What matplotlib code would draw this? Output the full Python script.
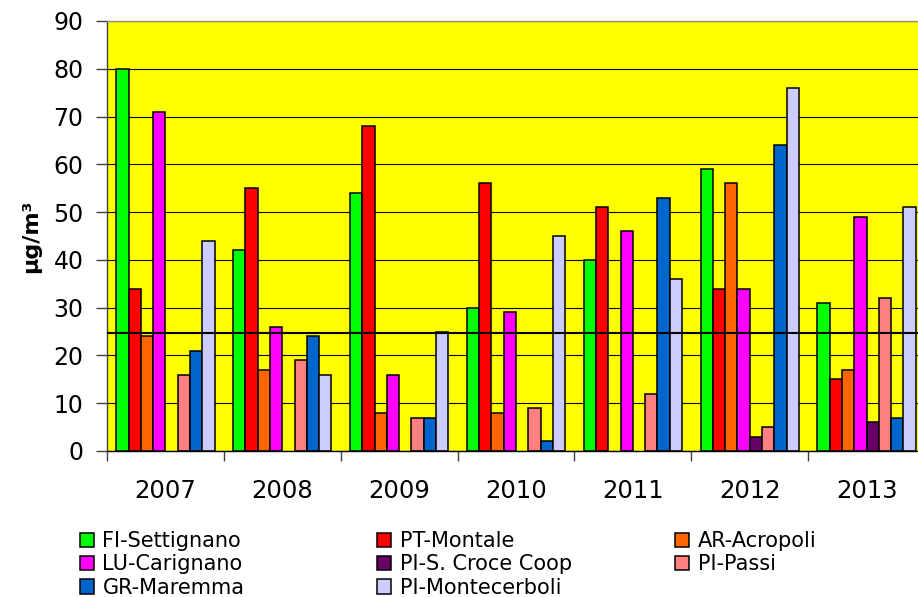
import numpy as np
import matplotlib
matplotlib.use("Agg")
import matplotlib.pyplot as plt
from matplotlib.patches import Patch

plt.rcParams["font.family"] = ["DejaVu Sans"]

# Annual mean concentrations per monitoring station
years = ["2007", "2008", "2009", "2010", "2011", "2012", "2013"]
stations = ["FI-Settignano", "PT-Montale", "AR-Acropoli", "LU-Carignano",
            "PI-S. Croce Coop", "PI-Passi", "GR-Maremma", "PI-Montecerboli"]

fi_settignano = [80, 42, 54, 30, 40, 59, 31]
pt_montale = [34, 55, 68, 56, 51, 34, 15]
ar_acropoli = [24, 17, 8, 8, np.nan, 56, 17]
lu_carignano = [71, 26, 16, 29, 46, 34, 49]
pi_s_croce = [np.nan, np.nan, np.nan, np.nan, np.nan, 3, 6]
pi_passi = [16, 19, 7, 9, 12, 5, 32]
gr_maremma = [21, 24, 7, 2, 53, 64, 7]
pi_montecerboli = [44, 16, 25, 45, 36, 76, 51]

reference_level = 24.6

series = [fi_settignano, pt_montale, ar_acropoli, lu_carignano,
          pi_s_croce, pi_passi, gr_maremma, pi_montecerboli]
colors = ["#00FF00", "#FF0000", "#FF6600", "#FF00FF",
          "#660066", "#FF8080", "#0066CC", "#CCCCFF"]

W, H = 918, 597
fig = plt.figure(figsize=(W / 100, H / 100), dpi=100)
ax = fig.add_axes([107 / W, (H - 451) / H, 818 / W, 430 / H])
ax.set_facecolor("#FFFF00")

n = len(stations)
gap_ratio = 1.5
bw = 1.0 / (n + gap_ratio)
x = np.arange(len(years))
handles = []
for i, (name, vals, col) in enumerate(zip(stations, series, colors)):
    off = (i - (n - 1) / 2) * bw
    ax.bar(x + off, np.asarray(vals, dtype=float), bw, color=col,
           edgecolor="black", linewidth=1.1, label=name, zorder=2)
    handles.append(Patch(facecolor=col, edgecolor="black", linewidth=1.1, label=name))

ax.axhline(reference_level, color="black", linewidth=1.5, zorder=3)

ax.set_ylim(0, 90)
ax.set_xlim(-0.5, len(years) - 0.5)
ax.set_yticks(range(0, 91, 10))
ax.yaxis.grid(True, color="black", linewidth=0.8)
ax.set_axisbelow(True)

# category separators as ticks, year labels centred on each group
ax.set_xticks(np.arange(-0.5, len(years), 1.0))
ax.set_xticklabels([])
ax.set_xticks(x, minor=True)
ax.set_xticklabels(years, minor=True)
ax.tick_params(axis="x", which="minor", length=0, pad=20, labelsize=17.5)
ax.tick_params(axis="x", which="major", length=7, width=1, color="#404040")
ax.tick_params(axis="y", length=8, width=1, color="#404040", pad=9, labelsize=17)

ax.spines["top"].set_color("#909090")
ax.spines["right"].set_visible(False)
ax.spines["left"].set_color("#404040")
ax.spines["bottom"].set_color("black")
for s in ax.spines.values():
    s.set_linewidth(1.0)

ax.set_ylabel("µg/m³", fontsize=16, fontweight="bold", labelpad=9)

# legend laid out in three columns, filled row by row
col_groups = [[0, 3, 6], [1, 4, 7], [2, 5]]
col_x = [80, 377, 675]
for grp, cx in zip(col_groups, col_x):
    fig.legend(handles=[handles[k] for k in grp], loc="upper left",
               bbox_to_anchor=(cx / W, 1 - 531 / H), frameon=False,
               fontsize=15, handlelength=0.68, handleheight=0.68,
               handletextpad=0.4, labelspacing=0.16, borderpad=0,
               borderaxespad=0)

fig.savefig("out.png", dpi=100)
